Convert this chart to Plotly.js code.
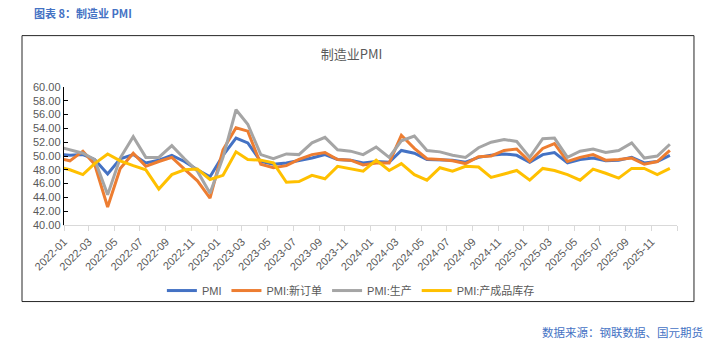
<!DOCTYPE html>
<html>
<head>
<meta charset="utf-8">
<script src="https://cdn.plot.ly/plotly-3.0.1.min.js"></script>
<style>
html,body{margin:0;padding:0;background:#fff;}
#chart{width:716px;height:341px;}
</style>
</head>
<body>
<div id="chart"></div>
<script>
// Months (data dated mid-month; 2021-12 lies just left of the visible range)
const months = ['2021-12',
  '2022-01','2022-02','2022-03','2022-04','2022-05','2022-06','2022-07','2022-08','2022-09','2022-10','2022-11','2022-12',
  '2023-01','2023-02','2023-03','2023-04','2023-05','2023-06','2023-07','2023-08','2023-09','2023-10','2023-11','2023-12',
  '2024-01','2024-02','2024-03','2024-04','2024-05','2024-06','2024-07','2024-08','2024-09','2024-10','2024-11','2024-12',
  '2025-01','2025-02','2025-03','2025-04','2025-05','2025-06','2025-07','2025-08','2025-09','2025-10','2025-11','2025-12'];

const pmi = [50.3,
  50.1,50.2,49.5,47.4,49.6,50.2,49.0,49.4,50.1,49.2,48.0,47.0,
  50.1,52.6,51.9,49.2,48.8,49.0,49.3,49.7,50.2,49.5,49.4,49.0,
  49.2,49.1,50.8,50.4,49.5,49.5,49.4,49.1,49.8,50.1,50.3,50.1,
  49.1,50.2,50.5,49.0,49.5,49.7,49.3,49.4,49.8,49.0,49.2,50.1];

const newOrders = [49.7,
  49.3,50.7,48.8,42.6,48.2,50.4,48.5,49.2,49.8,48.1,46.4,43.9,
  50.9,54.1,53.6,48.8,48.3,48.6,49.5,50.2,50.5,49.5,49.4,48.7,
  49.0,49.0,53.0,51.1,49.6,49.5,49.3,48.9,49.9,50.0,50.8,51.0,
  49.2,51.1,51.8,49.2,49.8,50.2,49.4,49.5,49.7,48.8,49.2,50.8];

const production = [51.4,
  50.9,50.4,49.5,44.4,49.7,52.8,49.8,49.8,51.5,49.6,47.8,44.6,
  49.8,56.7,54.6,50.2,49.6,50.3,50.2,51.9,52.7,50.9,50.7,50.2,
  51.3,49.8,52.2,52.9,50.8,50.6,50.1,49.8,51.2,52.0,52.4,52.1,
  49.8,52.5,52.6,49.8,50.7,51.0,50.5,50.8,51.9,49.7,50.0,51.7];

const inventory = [48.5,
  48.0,47.3,48.9,50.3,49.3,48.6,48.0,45.2,47.3,48.0,48.1,46.6,
  47.2,50.6,49.5,49.4,49.0,46.2,46.3,47.2,46.7,48.5,48.2,47.8,
  49.4,47.9,48.9,47.3,46.5,48.3,47.8,48.5,48.4,46.9,47.4,47.9,
  46.5,48.2,47.9,47.3,46.5,48.1,47.5,46.8,48.2,48.2,47.3,48.2];

const seriesNames = ['PMI','PMI:新订单','PMI:生产','PMI:产成品库存'];
const tickLabels = ['2022-01','2022-03','2022-05','2022-07','2022-09','2022-11',
  '2023-01','2023-03','2023-05','2023-07','2023-09','2023-11',
  '2024-01','2024-03','2024-05','2024-07','2024-09','2024-11',
  '2025-01','2025-03','2025-05','2025-07','2025-09','2025-11'];

const colors = ['#4472C4','#ED7D31','#A5A5A5','#FFC000'];
const xDates = months.map(m => m + '-15');
const allSeries = [pmi, newOrders, production, inventory];

const FONT = 'Liberation Sans, Noto Sans CJK SC, sans-serif';

const traces = allSeries.map((vals, i) => ({
  type: 'scatter', mode: 'lines',
  x: xDates, y: vals, name: seriesNames[i],
  line: {color: colors[i], width: 3},
  hoverinfo: 'skip'
}));

const tickVals = tickLabels.map(t => t + '-01').concat(['2026-01-01']);
const tickText = tickLabels.concat(['']);

const layout = {
  width: 716, height: 341,
  margin: {l: 64, r: 39, t: 87, b: 116},
  paper_bgcolor: '#ffffff', plot_bgcolor: '#ffffff',
  font: {family: FONT, color: '#595959', size: 11},
  title: {text: '制造业PMI', font: {family: 'Noto Sans CJK SC, sans-serif', size: 13, color: '#595959'},
          xref: 'paper', x: 0.469, xanchor: 'center', yref: 'container', y: 0.839, yanchor: 'middle'},
  xaxis: {
    type: 'date', range: ['2022-01-01', '2026-01-01'],
    tickmode: 'array', tickvals: tickVals, ticktext: tickText,
    tickangle: -45, ticks: 'outside', ticklen: 5, tickcolor: '#D9D9D9',
    showline: true, linecolor: '#D9D9D9', linewidth: 1,
    showgrid: false, zeroline: false,
    tickfont: {family: FONT, size: 11, color: '#595959'}
  },
  yaxis: {
    range: [40, 60], dtick: 2, tick0: 40, tickformat: '.2f',
    ticks: 'inside', ticklen: 4, tickcolor: '#000000',
    showline: true, linecolor: '#000000', linewidth: 1.3,
    showgrid: false, zeroline: false,
    tickfont: {family: FONT, size: 11, color: '#595959'}
  },
  showlegend: true,
  legend: {orientation: 'h', x: 0.468, xanchor: 'center', y: -0.475, yanchor: 'middle',
           font: {family: FONT, size: 11, color: '#595959'}, itemwidth: 30, bgcolor: 'rgba(0,0,0,0)'},
  shapes: [{type: 'rect', xref: 'paper', yref: 'paper',
            x0: -0.0685, x1: 1.0277, y0: -0.5547, y1: 1.3723,
            line: {color: '#262626', width: 1}, fillcolor: 'rgba(0,0,0,0)', layer: 'below'}],
  annotations: [
    {text: '<b>图表 8：制造业 PMI</b>', xref: 'paper', yref: 'paper', x: -0.0522, y: 1.533,
     xanchor: 'left', yanchor: 'middle', showarrow: false,
     font: {family: 'Noto Sans CJK SC, sans-serif', size: 11, color: '#4472C4'}},
    {text: '数据来源：钢联数据、国元期货', xref: 'paper', yref: 'paper', x: 1.0457, y: -0.774,
     xanchor: 'right', yanchor: 'middle', showarrow: false,
     font: {family: 'Noto Sans CJK SC, sans-serif', size: 11.5, color: '#4472C4'}}
  ]
};

Plotly.newPlot('chart', traces, layout, {displayModeBar: false, staticPlot: true});
</script>
</body>
</html>
